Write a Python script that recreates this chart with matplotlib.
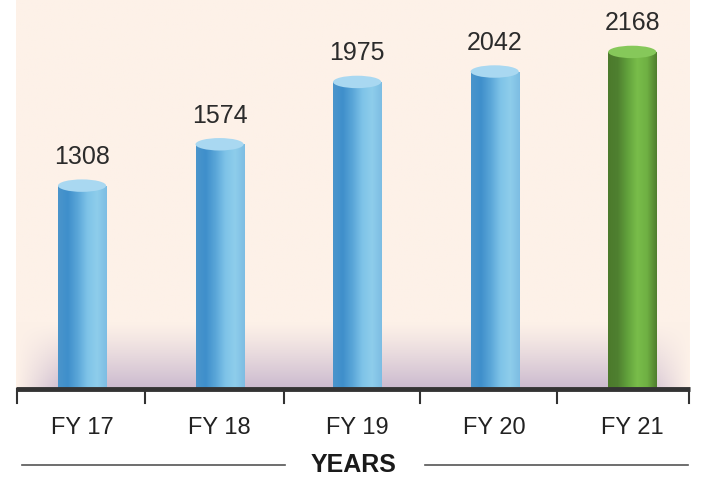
import numpy as np
import matplotlib
matplotlib.use("Agg")
import matplotlib.pyplot as plt
from matplotlib.patches import Ellipse, Rectangle
from matplotlib.colors import LinearSegmentedColormap

years = ["FY 17", "FY 18", "FY 19", "FY 20", "FY 21"]
values = [1308, 1574, 1975, 2042, 2168]
highlight = [False, False, False, False, True]

plt.rcParams["font.family"] = ["Liberation Sans", "DejaVu Sans"]

fig = plt.figure(figsize=(7.04, 4.78), dpi=100)
ax = fig.add_axes([16 / 704, 89 / 478, 674 / 704, 389 / 478])
ax.set_xlim(-0.48, 4.42)
ax.set_ylim(0, 2502)
ax.axis("off")

# background: peach panel with a purple haze along the baseline
h, w = 200, 300
yy = np.linspace(1, 0, h)[:, None]
xx = np.linspace(0, 1, w)[None, :]
peach = np.array([253, 241, 232]) / 255
haze = np.array([203, 186, 207]) / 255
vert = np.clip((0.17 - yy) / 0.17, 0, 1) ** 1.2
horiz = np.clip(np.minimum(xx, 1 - xx) / 0.07, 0, 1)
a = (vert * horiz)[..., None]
bg = peach * (1 - a) + haze * a
ax.imshow(bg, extent=(-0.48, 4.42, 0, 2502), aspect="auto", zorder=0)

blue = LinearSegmentedColormap.from_list(
    "b", ["#4a95cc", "#3f8fcb", "#5aa6d8", "#7ec3e8", "#8ecdeb", "#7dbde3"])
green = LinearSegmentedColormap.from_list(
    "g", ["#4c7a2c", "#4f8030", "#62a23c", "#79bd4a", "#6fb043", "#4f7d2d"])

bw = 0.35
eh = 80
grad = np.linspace(0, 1, 256)[None, :]
for i, (v, hl) in enumerate(zip(values, highlight)):
    cmap = green if hl else blue
    rect = Rectangle((i - bw / 2, 0), bw, v, transform=ax.transData)
    im = ax.imshow(grad, cmap=cmap, extent=(i - bw / 2, i + bw / 2, 0, v),
                   aspect="auto", zorder=2)
    im.set_clip_path(rect)
    top = Ellipse((i, v), bw, eh, facecolor="#86c85a" if hl else "#a9d8f1",
                  edgecolor="none", zorder=3)
    ax.add_patch(top)
    ax.text(i, v + 185, str(v), ha="center", va="center", fontsize=18,
            color="#2b2b2b", zorder=4)

# baseline and dividers
ax.plot([-0.48, 4.42], [0, 0], color="#333333", lw=3.5, zorder=5,
        solid_capstyle="butt", clip_on=False)
for xt in [-0.47, 0.46, 1.47, 2.46, 3.45, 4.41]:
    ax.plot([xt, xt], [0, -90], color="#333333", lw=1.5, clip_on=False, zorder=5)

for i, lab in enumerate(years):
    fig.text((82 + 137.5 * i) / 704, 1 - 428 / 478, lab, ha="center", va="center",
             fontsize=17, color="#222222")

fig.text(354 / 704, 1 - 465 / 478, "YEARS", ha="center", va="center",
         fontsize=18, fontweight="bold", color="#1a1a1a")
fig.add_artist(plt.Line2D([22 / 704, 285 / 704], [1 - 465 / 478] * 2,
                          color="#555555", lw=1.2))
fig.add_artist(plt.Line2D([425 / 704, 688 / 704], [1 - 465 / 478] * 2,
                          color="#555555", lw=1.2))

fig.savefig("out.png", dpi=100, facecolor="white")
